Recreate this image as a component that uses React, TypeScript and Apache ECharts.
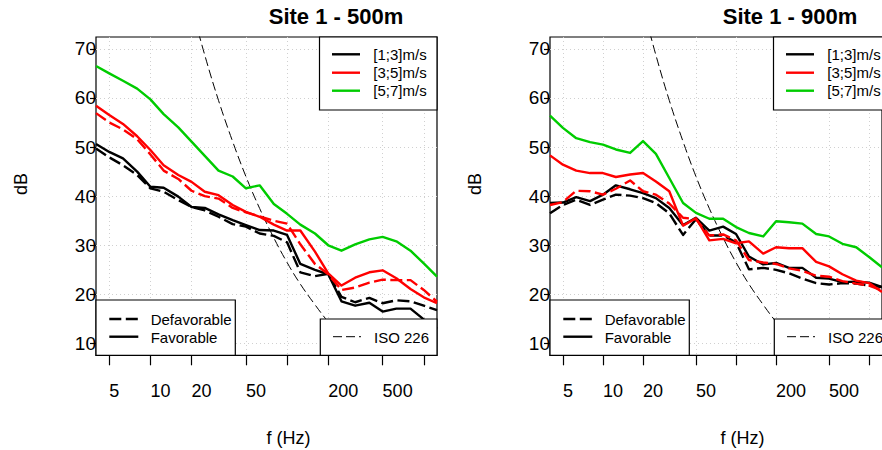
import React, { useEffect, useRef } from "react";
import * as echarts from "echarts";

// ---- data ----
const freqs = [4, 5, 6.3, 8, 10, 12.5, 16, 20, 25, 31.5, 40, 50, 63, 80, 100, 125, 160, 200, 250, 315, 400, 500, 630, 800, 1000, 1250];

// Site 1 - 500m
const k500Fav = [50.6, 49.0, 47.7, 45.0, 41.9, 41.7, 39.9, 37.8, 37.6, 36.3, 35.1, 34.1, 33.1, 33.0, 32.1, 26.2, 25.0, 24.1, 18.6, 17.7, 18.3, 16.5, 17.1, 17.1, 14.9, 13.0];
const k500Def = [49.7, 47.9, 46.3, 44.3, 41.6, 40.9, 39.2, 37.8, 37.1, 35.8, 34.3, 33.8, 32.4, 31.9, 30.6, 24.5, 23.7, 24.2, 19.5, 18.4, 19.3, 18.2, 18.8, 18.6, 17.7, 16.8];
const r500Fav = [58.4, 56.5, 54.7, 52.2, 49.4, 46.3, 44.3, 42.9, 40.9, 40.2, 38.2, 36.8, 35.8, 34.2, 33.0, 33.0, 28.7, 24.3, 21.8, 23.4, 24.5, 24.9, 23.3, 21.1, 19.4, 18.2];
const r500Def = [56.9, 55.0, 53.6, 51.6, 48.5, 45.2, 43.5, 41.1, 40.0, 39.5, 37.6, 36.7, 35.9, 35.0, 34.4, 30.2, 26.2, 24.1, 20.9, 21.4, 22.4, 23.0, 22.9, 22.9, 20.9, 18.5];
const g500Fav = [66.5, 65.0, 63.5, 61.9, 59.7, 56.7, 54.0, 51.1, 48.2, 45.2, 44.0, 41.6, 42.2, 38.4, 36.4, 34.2, 32.4, 30.0, 28.9, 30.2, 31.2, 31.7, 30.8, 28.9, 26.3, 23.6];

// Site 1 - 900m
const k900Fav = [38.6, 38.7, 39.8, 39.0, 40.3, 42.2, 41.4, 40.6, 39.6, 37.6, 34.1, 35.6, 33.0, 33.8, 32.3, 27.7, 26.1, 26.4, 25.4, 25.4, 23.4, 23.2, 22.5, 22.6, 22.4, 21.5];
const k900Def = [36.5, 38.2, 39.3, 38.2, 39.3, 40.3, 40.1, 39.6, 38.6, 36.5, 32.1, 35.3, 32.0, 32.0, 30.6, 25.1, 25.4, 25.0, 24.3, 23.2, 22.3, 22.0, 22.3, 22.2, 21.8, 21.5];
const r900Fav = [48.3, 46.4, 45.2, 44.7, 44.7, 43.9, 44.4, 44.7, 43.0, 41.0, 34.0, 35.5, 31.0, 31.3, 30.4, 30.8, 28.3, 29.6, 29.4, 29.4, 26.6, 25.7, 24.1, 22.8, 22.3, 20.5];
const r900Def = [38.2, 38.8, 41.1, 41.0, 40.3, 41.5, 43.2, 41.0, 40.3, 38.5, 35.6, 35.3, 32.0, 32.2, 31.0, 27.0, 26.5, 26.2, 25.3, 24.8, 23.8, 23.6, 22.7, 22.2, 21.8, 20.8];
const g900Fav = [56.4, 53.9, 51.8, 51.0, 50.5, 49.5, 48.8, 51.2, 48.6, 43.7, 38.6, 36.6, 35.4, 35.4, 33.7, 32.5, 31.8, 34.9, 34.7, 34.4, 32.3, 31.8, 30.3, 29.6, 27.6, 25.5];

// ISO 226 hearing threshold
const isoFreqs = [20, 25, 31.5, 40, 50, 63, 80, 100, 125, 160, 200, 250, 315, 400, 500, 630, 800, 1000, 1250];
const isoThreshold = [78.5, 68.7, 59.5, 51.1, 44.0, 37.5, 31.5, 26.5, 22.1, 17.9, 14.4, 11.4, 8.6, 6.2, 4.4, 3.0, 2.2, 2.4, 3.5];

const xTickValues = [5, 10, 20, 50, 100, 200, 500, 1000];
const xLabelValues = [5, 10, 20, 50, 200, 500];
const yTickValues = [10, 20, 30, 40, 50, 60, 70];
const panelTitles = ["Site 1 - 500m", "Site 1 - 900m"];
const speedLabels = ["[1;3]m/s", "[3;5]m/s", "[5;7]m/s"];
const conditionLabels = ["Defavorable", "Favorable"];
const isoLabel = "ISO 226";
const xAxisTitle = "f (Hz)";
const yAxisTitle = "dB";

const panelFav = [[k500Fav, r500Fav, g500Fav], [k900Fav, r900Fav, g900Fav]];
const panelDef = [[k500Def, r500Def, null], [k900Def, r900Def, null]];

const COLORS = ["#000000", "#ff0000", "#00cc00"];
const FONT = "'Liberation Sans', Arial, Helvetica, sans-serif";
const DASH = [12, 4.5];
const PANEL_DX = 454;
const GRID_LEFT = 96;
const GRID_TOP = 37;
const GRID_W = 341;
const GRID_H = 318.3;

function zip(xs: number[], ys: number[]) {
  return xs.map((x, i) => [x, ys[i]]);
}

function legendGraphics(dx: number) {
  const els: any[] = [];
  const txt = (x: number, y: number, t: string) => ({
    type: "text",
    x,
    y,
    z: 102,
    style: { text: t, fontSize: 15, fontFamily: FONT, fill: "#000", align: "left", verticalAlign: "middle" },
  });
  // speed legend (top right)
  els.push({
    type: "rect",
    z: 100,
    shape: { x: 319.5 + dx, y: GRID_TOP, width: 117.5, height: 73 },
    style: { fill: "#fff", stroke: "#000", lineWidth: 1.2 },
  });
  const ys = [54.3, 72.7, 90.7];
  speedLabels.forEach((t, i) => {
    els.push({
      type: "line",
      z: 101,
      shape: { x1: 332 + dx, y1: ys[i], x2: 360 + dx, y2: ys[i] },
      style: { stroke: COLORS[i], lineWidth: 2.4 },
    });
    els.push(txt(373.3 + dx, ys[i], t));
  });
  // condition legend (bottom left)
  els.push({
    type: "rect",
    z: 100,
    shape: { x: GRID_LEFT + dx, y: 300, width: 139.3, height: 55.3 },
    style: { fill: "#fff", stroke: "#000", lineWidth: 1.2 },
  });
  els.push({
    type: "line",
    z: 101,
    shape: { x1: 109.3 + dx, y1: 319, x2: 138.3 + dx, y2: 319 },
    style: { stroke: "#000", lineWidth: 2.4, lineDash: DASH },
  });
  els.push(txt(150.7 + dx, 319.5, conditionLabels[0]));
  els.push({
    type: "line",
    z: 101,
    shape: { x1: 109.3 + dx, y1: 336.7, x2: 138.3 + dx, y2: 336.7 },
    style: { stroke: "#000", lineWidth: 2.4 },
  });
  els.push(txt(150.7 + dx, 337.2, conditionLabels[1]));
  // ISO legend (bottom right)
  els.push({
    type: "rect",
    z: 100,
    shape: { x: 320.3 + dx, y: 319, width: 116.7, height: 36.3 },
    style: { fill: "#fff", stroke: "#000", lineWidth: 1.2 },
  });
  els.push({
    type: "line",
    z: 101,
    shape: { x1: 333 + dx, y1: 336.7, x2: 361 + dx, y2: 336.7 },
    style: { stroke: "#000", lineWidth: 1, lineDash: [9, 4] },
  });
  els.push(txt(374 + dx, 337.2, isoLabel));
  // titles and axis names
  els.push({
    type: "text",
    x: 336 + dx,
    y: 16.5,
    z: 102,
    style: { text: panelTitles[dx === 0 ? 0 : 1], fontSize: 22, fontWeight: "bold", fontFamily: FONT, fill: "#000", align: "center", verticalAlign: "middle" },
  });
  els.push({
    type: "text",
    x: 288.5 + dx,
    y: 437.5,
    z: 102,
    style: { text: xAxisTitle, fontSize: 18, fontFamily: FONT, fill: "#000", align: "center", verticalAlign: "middle" },
  });
  els.push({
    type: "text",
    x: 20.5 + dx,
    y: 184,
    rotation: Math.PI / 2,
    z: 102,
    style: { text: yAxisTitle, fontSize: 18, fontFamily: FONT, fill: "#000", align: "center", verticalAlign: "middle" },
  });
  return els;
}

export default function App() {
  const ref = useRef<HTMLDivElement>(null);
  useEffect(() => {
    document.body.style.margin = "0";
    if (!ref.current) return;
    const chart = echarts.init(ref.current, undefined, { renderer: "svg" });

    const grids = [0, 1].map((p) => ({
      left: GRID_LEFT + p * PANEL_DX,
      top: GRID_TOP,
      width: GRID_W,
      height: GRID_H,
      show: true,
      borderColor: "#000",
      borderWidth: 1.2,
      backgroundColor: "transparent",
    }));

    const xAxes = [0, 1].map((p) => ({
      type: "log",
      logBase: 10,
      gridIndex: p,
      min: 4,
      max: 1250,
      axisLine: { show: false, onZero: false },
      axisTick: { show: true, length: 10, customValues: xTickValues, lineStyle: { color: "#000", width: 1.2 } },
      axisLabel: {
        customValues: xLabelValues,
        align: "left",
        verticalAlign: "middle",
        margin: 36,
        fontSize: 18,
        fontFamily: FONT,
        color: "#000",
        formatter: (v: number) => String(v),
      },
      splitLine: { show: true, lineStyle: { color: "#d0d0d0", width: 1, type: [1, 3] } },
    }));

    const yAxes = [0, 1].map((p) => ({
      type: "value",
      gridIndex: p,
      min: 7.6,
      max: 72.4,
      axisLine: { show: false, onZero: false },
      axisTick: { show: true, length: 6, customValues: yTickValues, lineStyle: { color: "#000", width: 1.2 } },
      axisLabel: {
        customValues: yTickValues,
        margin: 0,
        fontSize: 19,
        fontFamily: FONT,
        color: "#000",
        padding: [5, 0, 0, 0],
      },
      splitLine: { show: true, lineStyle: { color: "#d0d0d0", width: 1, type: [1, 3] } },
    }));

    const series: any[] = [];
    [0, 1].forEach((p) => {
      panelFav[p].forEach((vals, i) => {
        series.push({
          type: "line",
          name: `${panelTitles[p]} ${speedLabels[i]} ${conditionLabels[1]}`,
          xAxisIndex: p,
          yAxisIndex: p,
          data: zip(freqs, vals),
          symbol: "none",
          lineStyle: { color: COLORS[i], width: 2.4, join: "round" },
          z: 3 + i,
        });
        const d = panelDef[p][i];
        if (d) {
          series.push({
            type: "line",
            name: `${panelTitles[p]} ${speedLabels[i]} ${conditionLabels[0]}`,
            xAxisIndex: p,
            yAxisIndex: p,
            data: zip(freqs, d),
            symbol: "none",
            lineStyle: { color: COLORS[i], width: 2.4, type: DASH, join: "round" },
            z: 3 + i,
          });
        }
      });
      series.push({
        type: "line",
        name: `${panelTitles[p]} ${isoLabel}`,
        xAxisIndex: p,
        yAxisIndex: p,
        data: zip(isoFreqs, isoThreshold),
        symbol: "none",
        smooth: 0.4,
        lineStyle: { color: "#000", width: 1, type: [9, 4] },
        z: 2,
      });
    });

    chart.setOption({
      animation: false,
      backgroundColor: "#fff",
      textStyle: { fontFamily: FONT },
      grid: grids,
      xAxis: xAxes,
      yAxis: yAxes,
      series,
      graphic: { elements: [...legendGraphics(0), ...legendGraphics(PANEL_DX)] },
    });
    return () => chart.dispose();
  }, []);
  return <div ref={ref} style={{ width: 882, height: 450 }} />;
}
